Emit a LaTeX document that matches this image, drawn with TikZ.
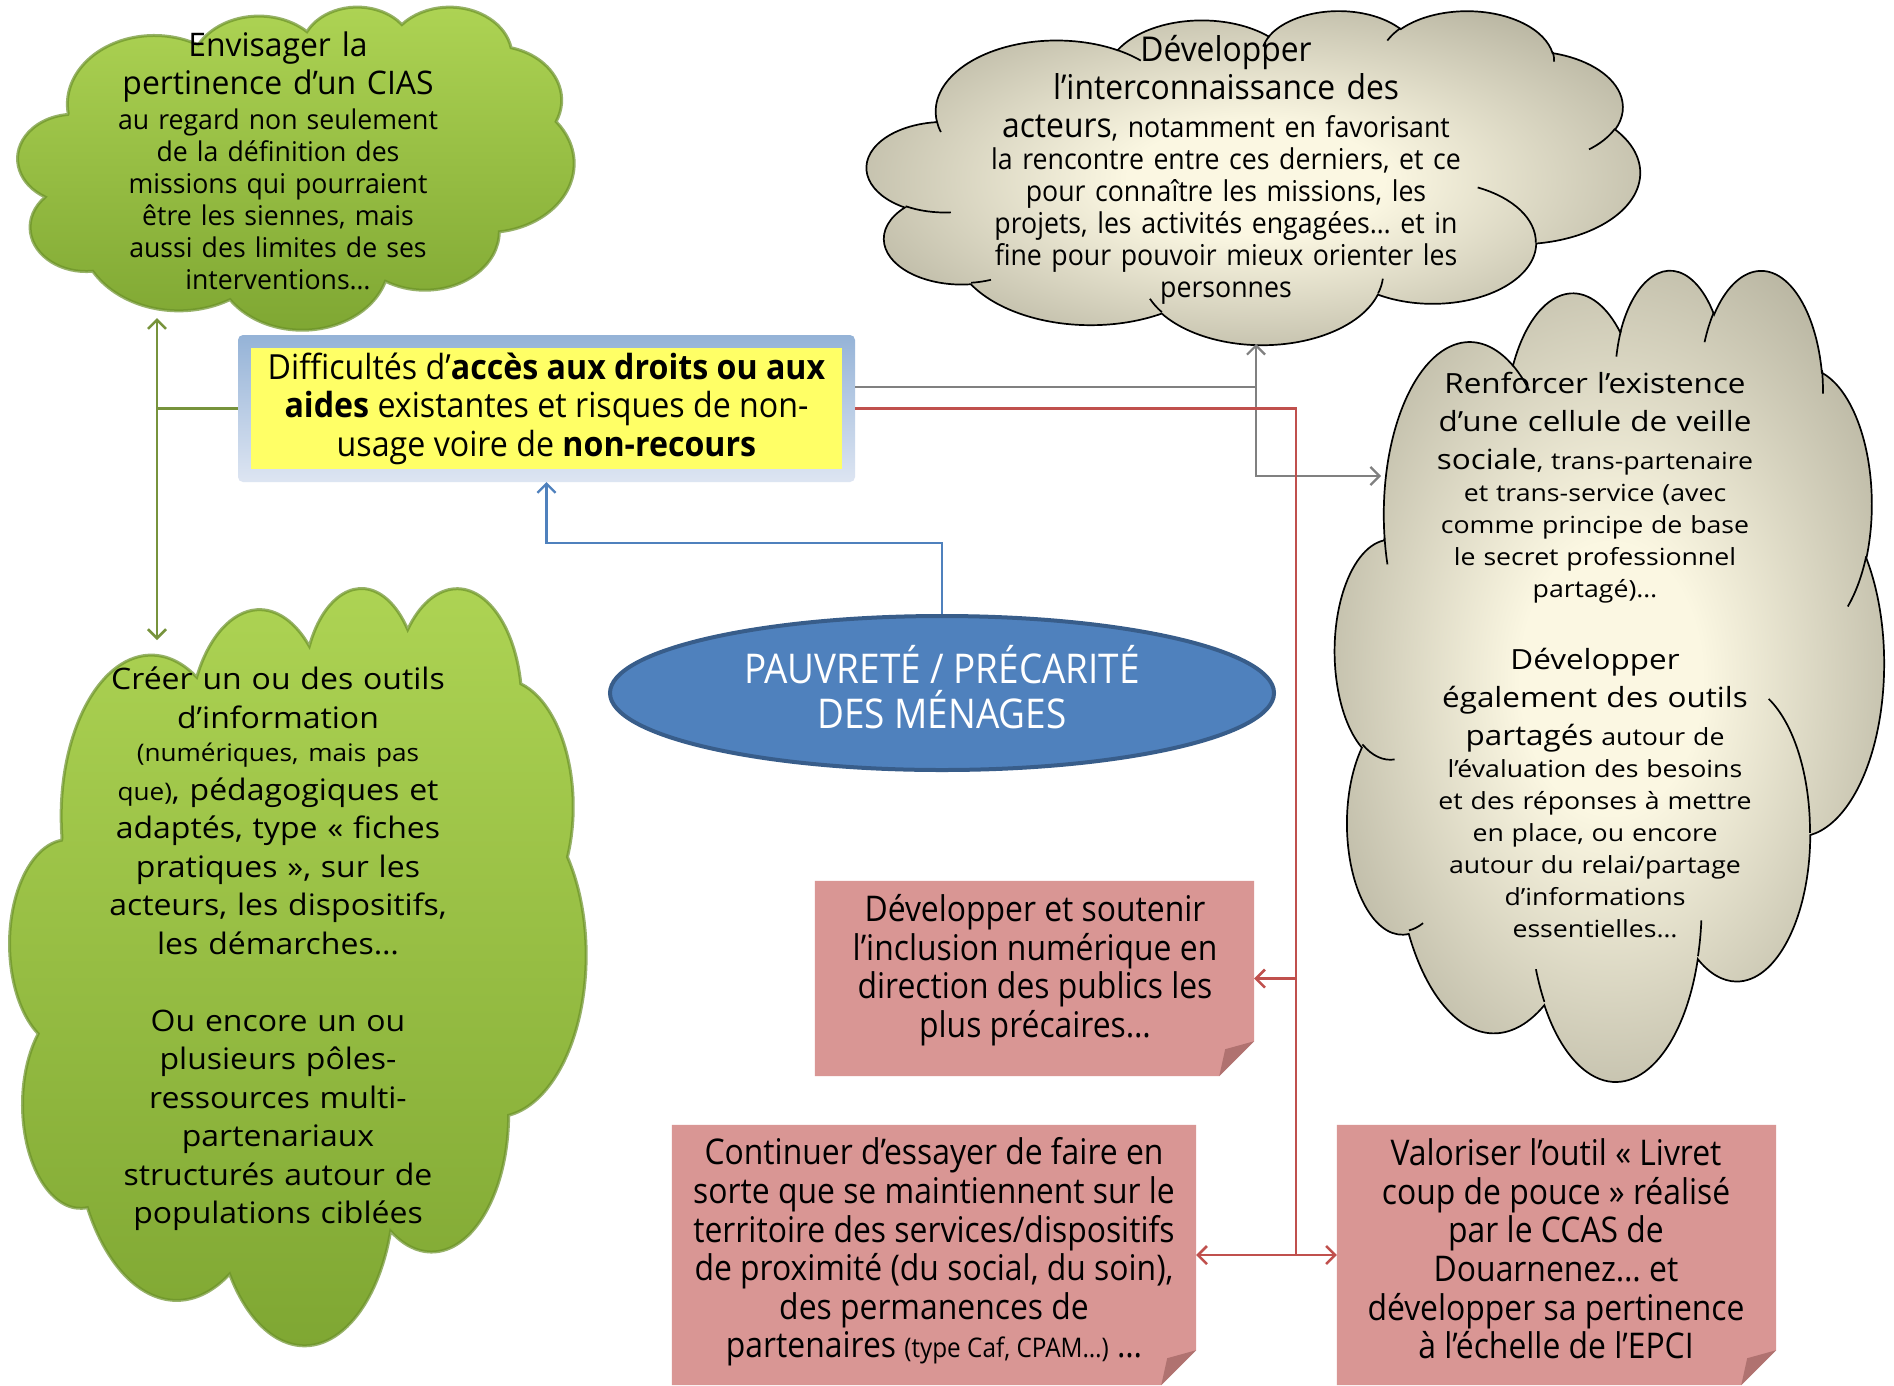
\documentclass[tikz,border=0pt]{standalone}
\usepackage{fontspec}
\setmainfont{Open Sans}
\newfontfamily\fA[FakeStretch=0.9]{Open Sans}
\newfontfamily\fAA[FakeStretch=0.93]{Open Sans}
\newfontfamily\fB[FakeStretch=0.98]{Open Sans}
\newfontfamily\fC[FakeStretch=1.13]{Open Sans}
\newfontfamily\fD[FakeStretch=1.08]{Open Sans}
\usetikzlibrary{shapes.geometric,arrows.meta}
\setlength{\parindent}{0pt}
\definecolor{gLine}{RGB}{119,147,60}
\definecolor{bLine}{RGB}{79,129,189}
\definecolor{bDark}{RGB}{56,93,138}
\definecolor{gyLine}{RGB}{128,128,128}
\definecolor{rLine}{RGB}{192,80,77}
\definecolor{pinkF}{RGB}{217,150,148}
\definecolor{pinkD}{RGB}{176,114,112}
\definecolor{yel}{RGB}{255,255,102}
\definecolor{frTop}{RGB}{149,179,215}
\definecolor{frBot}{RGB}{221,229,242}
\definecolor{grnTop}{RGB}{174,212,84}
\definecolor{grnBot}{RGB}{126,166,50}
\definecolor{grnEdge}{RGB}{108,146,42}
\definecolor{cream}{RGB}{251,247,226}
\definecolor{greyEdge}{RGB}{148,145,126}
\pgfdeclareradialshading{greyrad}{\pgfpoint{0bp}{0bp}}{color(0bp)=(cream); color(8bp)=(cream); color(40bp)=(greyEdge); color(50bp)=(greyEdge)}
% Word-style cloud outline in a 432 x 432 box (#1 style, #2 x0, #3 y0, #4 xunit, #5 yunit)
\newcommand{\wcloud}[5]{%
\begin{scope}[shift={(#2,#3)}, x=#4pt, y=-#5pt]
\path[#1] (39.00,143.70)
 arc[start angle=-187.74,end angle=-59.65,x radius=67.53,y radius=91.90]
 arc[start angle=-151.99,end angle=-45.47,x radius=53.33,y radius=72.67]
 arc[start angle=-153.48,end angle=-37.33,x radius=43.65,y radius=59.45]
 arc[start angle=-139.71,end angle=-10.22,x radius=48.57,y radius=65.95]
 arc[start angle=-74.77,end angle=23.22,x radius=53.33,y radius=72.73]
 arc[start angle=-37.52,end angle=81.86,x radius=67.75,y radius=92.20]
 arc[start angle=0.46,end angle=122.0,x radius=57.85,y radius=78.67]
 arc[start angle=16.84,end angle=146.23,x radius=67.52,y radius=92.15]
 arc[start angle=59.03,end angle=150.15,x radius=77.20,y radius=105.43]
 arc[start angle=83.31,end angle=223.12,x radius=43.60,y radius=59.18]
 arc[start angle=120.36,end angle=264.11,x radius=43.45,y radius=59.45]
 -- cycle;
\end{scope}}
\newcommand{\wcloudarcs}[5]{%
\begin{scope}[shift={(#2,#3)}, x=#4pt, y=-#5pt]
\draw[#1] (46.93,261.77) arc[start angle=85.55,end angle=120.36,x radius=43.45,y radius=59.45]
 (69.28,348.99) arc[start angle=68.22,end angle=83.31,x radius=43.60,y radius=59.18]
 (164.78,390.90) arc[start angle=146.23,end angle=158.47,x radius=67.52,y radius=92.15]
 (288.27,347.51) arc[start angle=4.74,end angle=16.84,x radius=67.52,y radius=92.15]
 (341.29,229.54) arc[start angle=-63.99,end angle=0.46,x radius=57.85,y radius=78.67]
 (417.98,153.54) arc[start angle=23.22,end angle=49.67,x radius=53.33,y radius=72.73]
 (383.24,54.26) arc[start angle=-10.22,end angle=0.82,x radius=48.57,y radius=65.95]
 (290.78,39.52) arc[start angle=-156.28,end angle=-139.71,x radius=48.57,y radius=65.95]
 (221.41,47.20) arc[start angle=-167.72,end angle=-153.48,x radius=43.65,y radius=59.45]
 (140.00,51.92) arc[start angle=-59.65,end angle=-45.73,x radius=67.53,y radius=91.90]
 (41.27,157.89) arc[start angle=163.19,end angle=172.26,x radius=67.53,y radius=91.90];
\end{scope}}
\tikzset{
  >={Straight Barb[length=9pt,width=18pt]},
  gfill/.style={top color=grnTop, bottom color=grnBot, draw=grnEdge, draw opacity=0.7, line width=3pt},
  yfill/.style={shading=greyrad, draw=black, line width=1.7pt},
  arcline/.style={black, line width=1.7pt},
  anchorbox/.style={rectangle, inner sep=0pt},
  txt/.style={align=center, inner sep=0pt},
  pbox/.style={rectangle, inner sep=0pt},
  gL/.style={draw=gLine, line width=2.5pt},
  bL/.style={draw=bLine, line width=2.2pt},
  gyL/.style={draw=gyLine, line width=2.2pt},
  rL/.style={draw=rLine, line width=2.5pt},
}
\begin{document}
\begin{tikzpicture}[x=1pt,y=-1pt]
\fill[white] (0,0) rectangle (1894,1385);
\path[use as bounding box] (0,0) rectangle (1894,1385);

% clouds (named anchor boxes + drawn outlines)
\node[anchorbox, minimum width=556pt, minimum height=323pt] (gtc) at (296,167.5) {};
\node[anchorbox, minimum width=773pt, minimum height=334pt] (ytc) at (1253.5,177) {};
\node[anchorbox, minimum width=549pt, minimum height=811pt] (yrc) at (1609.5,673.5) {};
\node[anchorbox, minimum width=576pt, minimum height=757pt] (gbc) at (298,964.5) {};
\wcloud{gfill}{18}{6}{1.2870}{0.7477}
\wcloud{gfill}{10}{586}{1.3333}{1.7523}
\wcloud{yfill}{867}{10}{1.7894}{0.7731}
\wcloudarcs{arcline}{867}{10}{1.7894}{0.7731}
\wcloud{yfill}{1335}{268}{1.2708}{1.8773}
\wcloudarcs{arcline}{1335}{268}{1.2708}{1.8773}

% yellow box
\node[rectangle, rounded corners=5pt, top color=frTop, bottom color=frBot, minimum width=617pt, minimum height=147pt, inner sep=0pt] (yf) at (546.5,408.5) {};
\node[rectangle, fill=yel, minimum width=591pt, minimum height=121pt, inner sep=0pt, align=center, font={\fAA\fontsize{34.6}{38.6}\selectfont}] (yb) at (yf.center) {Difficultés d’\textbf{accès aux droits ou aux}\\\textbf{aides} existantes et risques de non-\\usage voire de \textbf{non-recours}};

% ellipse
\node[ellipse, fill=bLine, draw=bDark, line width=4pt, minimum width=664pt, minimum height=154pt, inner sep=0pt] (ell) at (942,693) {};
\node[txt, text=white, font={\fA\fontsize{41}{45}\selectfont}] (ellt) at (942,687) {PAUVRETÉ / PRÉCARITÉ\\DES MÉNAGES};

% pink boxes
\node[pbox, minimum width=439pt, minimum height=195pt] (p1) at (1034.5,978.5) {};
\node[pbox, minimum width=524pt, minimum height=260pt] (p2) at (934,1255) {};
\node[pbox, minimum width=439pt, minimum height=260pt] (p3) at (1556.5,1255) {};
\foreach \n in {p1,p2,p3}{
  \fill[pinkF] (\n.north west) -- (\n.north east) -- ([yshift=35pt]\n.south east) -- ([xshift=-35pt]\n.south east) -- (\n.south west) -- cycle;
  \fill[pinkD] ([yshift=35pt]\n.south east) -- ([xshift=-29pt,yshift=27pt]\n.south east) -- ([xshift=-35pt]\n.south east) -- cycle;
}

% texts
\node[txt, text width=420pt, font={\fB\fontsize{27.2}{32}\selectfont}] (gtt) at (278,161) {{\fontsize{32.5}{38.6}\selectfont\spaceskip=.3333em Envisager la\\pertinence d’un CIAS\par}\vspace{3pt}au regard non seulement\\de la définition des\\missions qui pourraient\\être les siennes, mais\\aussi des limites de ses\\interventions…};

\node[txt, text width=480pt, font={\fAA\fontsize{28.7}{32}\selectfont}] (ytt) at (1226,170) {{\fontsize{34.2}{38.6}\selectfont\spaceskip=.3333em Développer\\l’interconnaissance des\par}\vspace{6pt}{\fontsize{34.2}{32}\selectfont acteurs}, notamment en favorisant\\la rencontre entre ces derniers, et ce\\pour connaître les missions, les\\projets, les activités engagées… et in\\fine pour pouvoir mieux orienter les\\personnes};

\node[txt, text width=420pt, font={\fC\fontsize{23.6}{32}\selectfont}] (yrt) at (1595,655) {{\fontsize{27.8}{38}\selectfont\spaceskip=.3333em Renforcer l’existence\\d’une cellule de veille\par}\vspace{6pt}{\fontsize{27.8}{32}\selectfont sociale}, trans-partenaire\\et trans-service (avec\\comme principe de base\\le secret professionnel\\partagé)…\par\vspace{34pt}{\fontsize{27.8}{38}\selectfont\spaceskip=.3333em Développer\\également des outils\par}\vspace{6pt}{\fontsize{27.8}{32}\selectfont partagés} autour de\\l’évaluation des besoins\\et des réponses à mettre\\en place, ou encore\\autour du relai/partage\\d’informations\\essentielles…};

\node[txt, text width=460pt, font={\fD\fontsize{29.6}{38.5}\selectfont}] (gbt) at (278,949) {Créer un ou des outils\\d’information\\[-5pt]{\fontsize{24.2}{38.5}\selectfont (numériques, mais pas}\\{\fontsize{24.2}{38.5}\selectfont que)}, pédagogiques et\\adaptés, type « fiches\\pratiques », sur les\\acteurs, les dispositifs,\\les démarches…\par\vspace{38.5pt}Ou encore un ou\\plusieurs pôles-\\ressources multi-\\partenariaux\\structurés autour de\\populations ciblées};

\node[txt, font={\fA\fontsize{35.4}{38.6}\selectfont}] (p1t) at (1035,970) {Développer et soutenir\\l’inclusion numérique en\\direction des publics les\\plus précaires…};
\node[txt, font={\fA\fontsize{35.4}{38.6}\selectfont}] (p2t) at (934,1252) {Continuer d’essayer de faire en\\sorte que se maintiennent sur le\\territoire des services/dispositifs\\de proximité (du social, du soin),\\des permanences de\\partenaires {\fontsize{27}{38.6}\selectfont (type Caf, CPAM…)} …};
\node[txt, font={\fA\fontsize{35.4}{38.6}\selectfont}] (p3t) at (1556,1249) {Valoriser l’outil « Livret\\coup de pouce » réalisé\\par le CCAS de\\Douarnenez… et\\développer sa pertinence\\à l’échelle de l’EPCI};

% connectors
\coordinate (gj) at (157,408.5);
\coordinate (gup) at (157,318);
\coordinate (gdn) at (157,640);
\draw[gL] (yf.west) -- (gj);
\draw[gL,<->] (gup) -- (gdn);

\draw[bL,->] (ell.north) -- ++(0,-71) -| (yf.south);

\coordinate (gyA) at (1256,387);
\coordinate (gyT) at (1256,344);
\coordinate (gyB) at (1256,476);
\coordinate (gyR) at (1381,476);
\draw[gyL] (yf.east |- gyA) -- (gyA);
\draw[gyL,<->] (gyT) -- (gyB) -- (gyR);

\coordinate (rA) at (1296,408.5);
\coordinate (rB) at (1296,1255);
\draw[rL] (yf.east) -- (rA) -- (rB);
\draw[rL,->] (rA |- p1.east) -- (p1.east);
\draw[rL,<->] (p2.east) -- (p3.west);
\end{tikzpicture}
\end{document}
